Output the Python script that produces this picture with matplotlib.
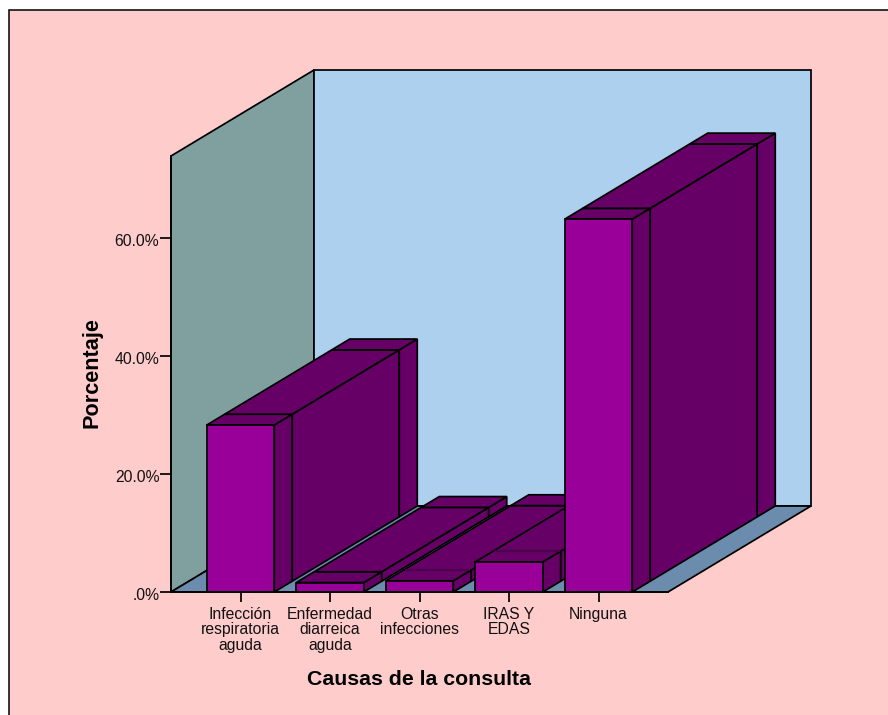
import matplotlib
matplotlib.use("Agg")
import matplotlib.pyplot as plt
from matplotlib.patches import Polygon, Rectangle
from matplotlib.transforms import ScaledTranslation

categories = ["Infección\nrespiratoria\naguda", "Enfermedad\ndiarreica\naguda",
              "Otras\ninfecciones", "IRAS Y\nEDAS", "Ninguna"]
values = [28.3, 1.6, 1.9, 5.1, 63.2]
y_ticks = [0, 20, 40, 60]
y_tick_labels = [".0%", "20.0%", "40.0%", "60.0%"]

PINK, LEFT, BACK, FLOOR = "#FFCCCC", "#80A0A0", "#ADD0EE", "#6C8CAD"
FRONT, DARK = "#990099", "#660066"

W, H = 888, 715
plt.rcParams["font.family"] = ["Liberation Sans", "DejaVu Sans"]
fig = plt.figure(figsize=(W / 100, H / 100), dpi=100, facecolor="white")

# page panel: black rule on left and top only (other sides run off the canvas)
fig.patches.append(Rectangle((9 / W, -0.05), 1, 1.05 - 10 / H, transform=fig.transFigure,
                             facecolor=PINK, edgecolor="black", linewidth=1.1, zorder=-5))

ax = fig.add_axes([171 / W, (H - 592) / H, 497 / W, 436 / H], zorder=2)
ax.patch.set_visible(False)

slot_px, unit_px = 89.5, 5.9
xmin, xmax = -69.5 / slot_px, 427.5 / slot_px
ymax = 436 / unit_px
dx, dy = 143 / slot_px, 86 / unit_px      # depth of the chart box
bw = 67.5 / slot_px                       # bar width
cuts = [0, 18 / 143, 125 / 143, 1]        # depth fractions of the ribs on each bar
ax.set_xlim(xmin, xmax)
ax.set_ylim(0, ymax)

LW = 1.25


def poly(pts, color, z):
    ax.add_patch(Polygon(pts, closed=True, facecolor=color, edgecolor="black",
                         linewidth=LW, joinstyle="miter", clip_on=False, zorder=z))


# chart box
poly([(xmin, 0), (xmin, ymax), (xmin + dx, ymax + dy), (xmin + dx, dy)], LEFT, 1)
poly([(xmin + dx, dy), (xmin + dx, ymax + dy), (xmax + dx, ymax + dy), (xmax + dx, dy)], BACK, 1)
poly([(xmin, 0), (xmax, 0), (xmax + dx, dy), (xmin + dx, dy)], FLOOR, 2)

# bars, left to right so nearer-right bars cover earlier ones
z = 3
for i, v in enumerate(values):
    l, r = i - bw / 2, i + bw / 2
    for a, b in zip(cuts[:-1], cuts[1:]):
        poly([(r + a * dx, a * dy), (r + b * dx, b * dy),
              (r + b * dx, v + b * dy), (r + a * dx, v + a * dy)], DARK, z)
        poly([(l + a * dx, v + a * dy), (r + a * dx, v + a * dy),
              (r + b * dx, v + b * dy), (l + b * dx, v + b * dy)], DARK, z)
    # the first rib on the top of these two bars is faint in the reference
    if i in (2, 3):
        c = cuts[1]
        ax.plot([l + c * dx + 0.01, r + c * dx - 0.01], [v + c * dy] * 2, color="#4A004A",
                linewidth=1.6, solid_capstyle="butt", clip_on=False, zorder=z + 0.2)
    poly([(l, 0), (r, 0), (r, v), (l, v)], FRONT, z + 0.5)
    z += 1

for s in ("top", "right"):
    ax.spines[s].set_visible(False)
for s in ("left", "bottom"):
    ax.spines[s].set_linewidth(LW)
    ax.spines[s].set_zorder(20)

ax.set_xticks(range(len(categories)))
ax.set_xticklabels(categories, fontsize=11.3, linespacing=1.03, color="#111111")
ax.set_yticks(y_ticks)
ax.set_yticklabels(y_tick_labels, fontsize=11.3, color="#111111")
ax.tick_params(axis="x", length=7.2, width=LW, pad=3.5)
ax.tick_params(axis="y", length=7.9, width=LW, pad=0.5)
nudge = ScaledTranslation(0, -2 / 100, fig.dpi_scale_trans)
for t in ax.get_yticklabels():
    t.set_transform(t.get_transform() + nudge)

ax.set_xlabel("Causas de la consulta", fontsize=15.3, fontweight="bold", va="center")
ax.xaxis.set_label_coords(0.4995, -0.201)
ax.set_ylabel("Porcentaje", fontsize=15.6, fontweight="bold", va="center")
ax.yaxis.set_label_coords(-0.159, 0.503)

fig.savefig("out.png", dpi=100, facecolor=fig.get_facecolor())
